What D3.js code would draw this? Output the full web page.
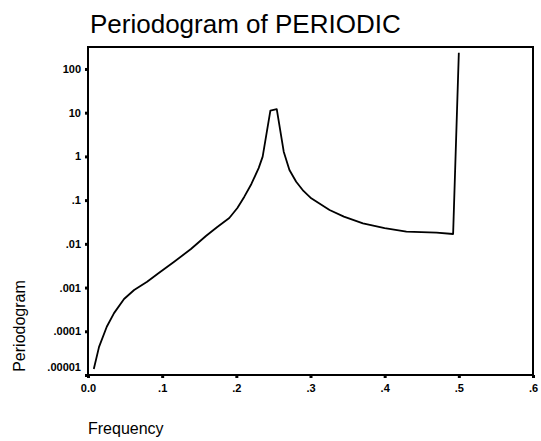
<!DOCTYPE html>
<html>
<head>
<meta charset="utf-8">
<script src="https://cdn.jsdelivr.net/npm/d3@7"></script>
<style>
  body { margin: 0; background: #fff; }
  text { font-family: "Liberation Sans", Arial, Helvetica, sans-serif; fill: #000; }
</style>
</head>
<body>
<div id="chart"></div>
<script>
// Periodogram values
var frequency = [0.0078, 0.0149, 0.0253, 0.0351, 0.0486, 0.0622, 0.0797, 0.0959, 0.1162, 0.1388,
                 0.159, 0.1743, 0.1905, 0.2014, 0.2108, 0.2203, 0.2301, 0.2355, 0.2459, 0.2545,
                 0.2639, 0.2716, 0.2807, 0.2905, 0.301, 0.3257, 0.345, 0.3707, 0.4, 0.4293,
                 0.4699, 0.4923, 0.5];
var periodogram = [0.0000137, 0.000044, 0.000127, 0.00026, 0.000547, 0.00088, 0.00136, 0.00219, 0.0039, 0.0076,
                   0.0151, 0.0243, 0.039, 0.066, 0.12, 0.234, 0.54, 0.99, 11.1, 12.0,
                   1.28, 0.49, 0.264, 0.162, 0.11, 0.0594, 0.0418, 0.0295, 0.023, 0.019,
                   0.018, 0.0168, 236];

var xTicks = [0, 0.1, 0.2, 0.3, 0.4, 0.5, 0.6];
var xTickLabels = ["0.0", ".1", ".2", ".3", ".4", ".5", ".6"];
var yTicks = [100, 10, 1, 0.1, 0.01, 0.001, 0.0001, 0.00001];
var yTickLabels = ["100", "10", "1", ".1", ".01", ".001", ".0001", ".00001"];

// Set graph margins and dimensions
var margin = {top: 47, right: 8, bottom: 66, left: 88},
    width = 541 - margin.left - margin.right,
    height = 441 - margin.top - margin.bottom;

var x = d3.scaleLinear()
          .domain([0, 0.6])
          .range([0, width]);

var y = d3.scaleLog()
          .domain([0.00001, 318])
          .range([height, 0]);

var svg = d3.select("#chart").append("svg")
    .attr("width", 541)
    .attr("height", 441);

svg.append("text")
    .attr("x", 90)
    .attr("y", 33)
    .style("font-size", "26px")
    .text("Periodogram of PERIODIC");

var g = svg.append("g")
    .attr("transform", "translate(" + margin.left + "," + margin.top + ")");

// Frame
g.append("rect")
    .attr("width", width)
    .attr("height", height)
    .attr("fill", "none")
    .attr("stroke", "#000")
    .attr("stroke-width", 2);

// Line
var line = d3.line()
    .x(function(d, i) { return x(frequency[i]); })
    .y(function(d) { return y(d); });

g.append("path")
    .datum(periodogram)
    .attr("d", line)
    .attr("fill", "none")
    .attr("stroke", "#000")
    .attr("stroke-width", 1.8)
    .attr("stroke-linejoin", "round");

// Add x axis
var xAxis = g.append("g")
    .attr("transform", "translate(0," + height + ")")
    .call(d3.axisBottom(x)
      .tickValues(xTicks)
      .tickFormat(function(d, i) { return xTickLabels[i]; })
      .tickSize(3)
      .tickPadding(6));
xAxis.select(".domain").remove();
xAxis.selectAll("line").attr("stroke-width", 3);
xAxis.selectAll("text")
    .style("font-size", "11px")
    .style("font-weight", "bold");

// Add y axis
var yAxis = g.append("g")
    .call(d3.axisLeft(y)
      .tickValues(yTicks)
      .tickFormat(function(d, i) { return yTickLabels[i]; })
      .tickSize(3)
      .tickPadding(4));
yAxis.select(".domain").remove();
yAxis.selectAll("line").attr("stroke-width", 3);
yAxis.selectAll("text")
    .style("font-size", "11px")
    .style("font-weight", "bold");
// bottom label sits a little above its tick
yAxis.selectAll(".tick").filter(function(d) { return d === 0.00001; })
    .select("text").attr("dy", "-0.4em");

// Axis titles
svg.append("text")
    .attr("x", 88)
    .attr("y", 434)
    .style("font-size", "16px")
    .text("Frequency");

svg.append("text")
    .attr("transform", "translate(25,326) rotate(-90)")
    .attr("text-anchor", "middle")
    .style("font-size", "16px")
    .text("Periodogram");
</script>
</body>
</html>
